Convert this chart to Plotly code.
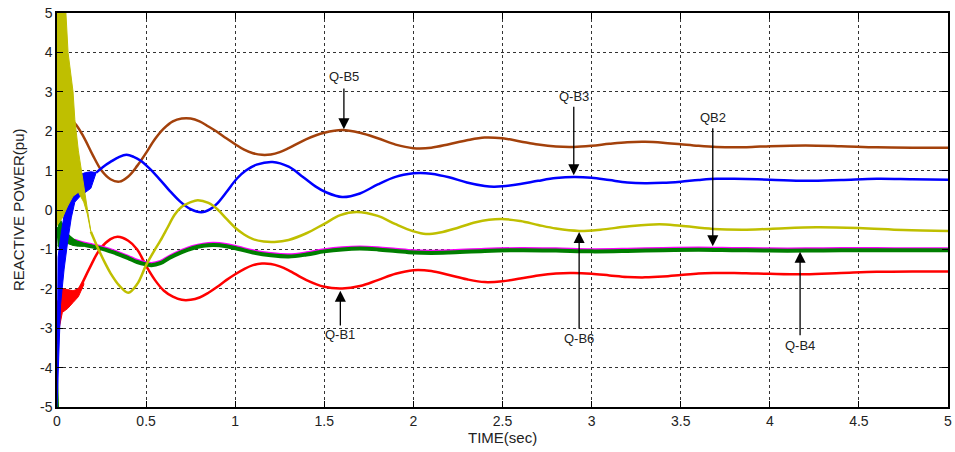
import plotly.graph_objects as go

# ---------------- data ----------------
t_b5 = [0.05, 0.1, 0.15, 0.2, 0.25, 0.3, 0.35, 0.4, 0.45, 0.5, 0.55, 0.6, 0.65, 0.7, 0.75, 0.8, 0.85, 0.9, 0.95, 1.0,
        1.05, 1.1, 1.15, 1.2, 1.25, 1.3, 1.4, 1.5, 1.6, 1.7, 1.8, 1.9, 2.0, 2.1, 2.2, 2.3, 2.4, 2.5, 2.6, 2.7, 2.8,
        2.9, 3.0, 3.1, 3.2, 3.3, 3.4, 3.5, 3.6, 3.7, 3.8, 3.9, 4.0, 4.2, 4.4, 4.6, 4.8, 5.0]
q_b5 = [2.35, 2.2, 1.85, 1.4, 1.0, 0.78, 0.72, 0.85, 1.12, 1.45, 1.8, 2.07, 2.25, 2.32, 2.32, 2.25, 2.12, 1.98, 1.82, 1.67,
        1.53, 1.44, 1.4, 1.41, 1.47, 1.57, 1.8, 1.96, 2.03, 1.96, 1.82, 1.66, 1.57, 1.58, 1.67, 1.77, 1.84, 1.82, 1.74, 1.66, 1.61,
        1.6, 1.63, 1.68, 1.72, 1.73, 1.71, 1.67, 1.63, 1.6, 1.59, 1.6, 1.62, 1.64, 1.62, 1.59, 1.58, 1.58]

t_b1 = [0.0, 0.005, 0.01, 0.05, 0.1, 0.13, 0.18, 0.24, 0.3, 0.34, 0.4, 0.45, 0.5, 0.55, 0.6, 0.65, 0.7, 0.75, 0.8, 0.85,
        0.9, 0.95, 1.0, 1.05, 1.1, 1.15, 1.2, 1.25, 1.3, 1.4, 1.5, 1.6, 1.7, 1.8, 1.9, 2.0, 2.1, 2.2, 2.3, 2.4, 2.5,
        2.6, 2.7, 2.8, 2.9, 3.0, 3.1, 3.2, 3.3, 3.4, 3.5, 3.6, 3.7, 3.8, 3.9, 4.0, 4.2, 4.4, 4.6, 4.8, 5.0]
q_b1 = [-3.4, -2.6, -2.3, -2.2, -2.12, -1.95, -1.5, -1.0, -0.74, -0.68, -0.78, -1.0, -1.42, -1.78, -2.05, -2.2, -2.28, -2.28, -2.22, -2.1,
        -1.95, -1.78, -1.63, -1.5, -1.4, -1.36, -1.37, -1.43, -1.53, -1.78, -1.95, -1.99, -1.93, -1.78, -1.62, -1.53, -1.55, -1.65, -1.76, -1.83, -1.81,
        -1.74, -1.66, -1.61, -1.6, -1.62, -1.66, -1.7, -1.71, -1.69, -1.65, -1.61, -1.6, -1.6, -1.61, -1.62, -1.63, -1.6, -1.57, -1.56, -1.56]
t_b1_band = [0.008, 0.03, 0.06, 0.09, 0.12, 0.15]
b1_band_hi = [-1.95, -2.0, -2.02, -2.05, -2.0, -1.85]
b1_band_lo = [-3.1, -2.6, -2.5, -2.35, -2.2, -1.9]

t_b3 = [0.22, 0.26, 0.3, 0.35, 0.39, 0.43, 0.47, 0.52, 0.58, 0.63, 0.69, 0.75, 0.81, 0.86, 0.9, 0.95, 1.01, 1.06, 1.12, 1.21,
        1.3, 1.38, 1.45, 1.51, 1.6, 1.7, 1.8, 1.9, 2.0, 2.04, 2.1, 2.2, 2.3, 2.4, 2.45, 2.5, 2.6, 2.7, 2.8, 2.9,
        3.0, 3.1, 3.2, 3.3, 3.4, 3.5, 3.6, 3.7, 3.8, 4.0, 4.2, 4.4, 4.6, 4.8, 5.0]
q_b3 = [0.95, 1.1, 1.22, 1.35, 1.4, 1.35, 1.25, 1.05, 0.76, 0.5, 0.22, 0.02, -0.06, 0.02, 0.17, 0.45, 0.8, 1.0, 1.15, 1.22,
        1.1, 0.84, 0.6, 0.45, 0.33, 0.42, 0.65, 0.84, 0.93, 0.94, 0.92, 0.83, 0.7, 0.61, 0.59, 0.6, 0.66, 0.74, 0.81, 0.84,
        0.82, 0.76, 0.7, 0.68, 0.69, 0.72, 0.76, 0.79, 0.79, 0.77, 0.74, 0.76, 0.79, 0.78, 0.77]
t_b3_band = [0.0, 0.006, 0.02, 0.04, 0.06, 0.08, 0.1, 0.13, 0.16, 0.19, 0.22]
b3_band_hi = [-4.6, -1.2, -0.7, -0.1, 0.45, 0.63, 0.62, 0.9, 0.95, 0.97, 0.95]
b3_band_lo = [-5.0, -4.0, -2.4, -1.5, -0.8, -0.2, 0.2, 0.35, 0.45, 0.55, 0.95]

t_b6 = [0.19, 0.23, 0.27, 0.3, 0.35, 0.4, 0.45, 0.5, 0.55, 0.58, 0.62, 0.66, 0.7, 0.75, 0.79, 0.85, 0.9, 0.95, 1.0, 1.05,
        1.1, 1.16, 1.22, 1.3, 1.4, 1.5, 1.59, 1.68, 1.8, 1.9, 2.0, 2.07, 2.15, 2.25, 2.35, 2.49, 2.6, 2.7, 2.8, 2.93,
        3.05, 3.2, 3.38, 3.5, 3.68, 3.85, 4.0, 4.26, 4.5, 4.75, 5.0]
q_b6 = [-0.55, -0.97, -1.35, -1.6, -1.92, -2.1, -1.88, -1.4, -1.0, -0.78, -0.45, -0.12, 0.08, 0.2, 0.25, 0.18, 0.02, -0.22, -0.45, -0.62,
        -0.74, -0.8, -0.81, -0.76, -0.59, -0.35, -0.13, -0.05, -0.15, -0.36, -0.54, -0.61, -0.57, -0.45, -0.31, -0.23, -0.28, -0.38, -0.47, -0.53,
        -0.5, -0.42, -0.36, -0.4, -0.48, -0.5, -0.48, -0.44, -0.46, -0.51, -0.53]
t_b6_band_hi = [0.0, 0.045, 0.05, 0.062, 0.09, 0.1, 0.12, 0.14, 0.16, 0.18, 0.19]
b6_band_hi = [5.5, 5.5, 5.0, 4.0, 3.0, 2.3, 1.5, 0.9, 0.35, -0.2, -0.55]
t_b6_band_lo = [0.19, 0.17, 0.15, 0.12, 0.09, 0.06, 0.03, 0.0]
b6_band_lo = [-0.55, -0.1, 0.2, 0.45, 0.35, 0.1, -0.2, -0.4]

t_b4 = [0.0, 0.004, 0.02, 0.04, 0.07, 0.1, 0.15, 0.2, 0.25, 0.3, 0.35, 0.4, 0.45, 0.5, 0.53, 0.58, 0.63, 0.7, 0.76, 0.82,
        0.88, 0.95, 1.02, 1.1, 1.2, 1.3, 1.4, 1.5, 1.6, 1.7, 1.8, 1.9, 2.0, 2.1, 2.2, 2.4, 2.6, 2.8, 3.0, 3.2,
        3.4, 3.6, 3.8, 4.0, 4.2, 4.4, 4.6, 4.8, 5.0]
q_b4 = [-5.0, -0.5, -0.45, -0.55, -0.7, -0.8, -0.88, -0.93, -0.98, -1.05, -1.13, -1.22, -1.32, -1.38, -1.4, -1.35, -1.22, -1.07, -0.97, -0.91,
        -0.89, -0.92, -0.99, -1.08, -1.15, -1.18, -1.13, -1.05, -1.0, -0.98, -1.0, -1.04, -1.08, -1.09, -1.08, -1.04, -1.02, -1.03, -1.05, -1.04,
        -1.02, -1.01, -1.02, -1.03, -1.03, -1.02, -1.02, -1.02, -1.02]
t_b4_band = [0.005, 0.02, 0.04, 0.06, 0.09, 0.12, 0.15]
b4_band_hi = [-0.3, -0.25, -0.45, -0.62, -0.75, -0.83, -0.87]
b4_band_lo = [-0.9, -1.0, -0.9, -0.85, -0.9, -0.92, -0.92]

t_b2 = [0.1, 0.15, 0.2, 0.25, 0.3, 0.35, 0.4, 0.45, 0.5, 0.53, 0.58, 0.63, 0.7, 0.76, 0.82, 0.88, 0.95, 1.02, 1.1, 1.2,
        1.3, 1.4, 1.5, 1.6, 1.7, 1.8, 1.9, 2.0, 2.1, 2.2, 2.4, 2.6, 2.8, 3.0, 3.2, 3.4, 3.6, 3.8, 4.0, 4.2,
        4.4, 4.6, 4.8, 5.0]
q_b2 = [-0.76, -0.83, -0.88, -0.93, -1.0, -1.08, -1.17, -1.27, -1.33, -1.35, -1.3, -1.17, -1.02, -0.92, -0.86, -0.84, -0.87, -0.94, -1.03, -1.1,
        -1.13, -1.08, -1.0, -0.95, -0.93, -0.95, -0.99, -1.03, -1.04, -1.03, -0.99, -0.97, -0.98, -1.0, -0.99, -0.97, -0.96, -0.97, -0.98, -0.98,
        -0.97, -0.97, -0.98, -0.98]

x_ticks = [0, 0.5, 1, 1.5, 2, 2.5, 3, 3.5, 4, 4.5, 5]
x_tick_labels = ["0", "0.5", "1", "1.5", "2", "2.5", "3", "3.5", "4", "4.5", "5"]
y_ticks = [-5, -4, -3, -2, -1, 0, 1, 2, 3, 4, 5]
y_tick_labels = ["-5", "-4", "-3", "-2", "-1", "0", "1", "2", "3", "4", "5"]
x_title = "TIME(sec)"
y_title = "REACTIVE POWER(pu)"

# annotation labels: (text, x, text_y, tail_y, head_y)
labels = ["Q-B5", "Q-B3", "QB2", "Q-B1", "Q-B6", "Q-B4"]
label_x = [1.61, 2.9, 3.68, 1.59, 2.93, 4.17]
label_text_y = [3.38, 2.87, 2.36, -3.15, -3.25, -3.43]
label_tail_y = [3.12, 2.66, 2.11, -2.97, -3.05, -3.22]
label_head_y = [2.05, 0.88, -0.92, -2.05, -0.56, -1.06]

# ---------------- styles ----------------
BROWN = "#A3410B"
BLUE = "#0000FF"
RED = "#FF0000"
YELLOW = "#BFBF00"
GREEN = "#007F00"
MAGENTA = "#FF00FF"
FONT = "Liberation Sans, Arial, sans-serif"

fig = go.Figure()


def band(tx_hi, hi, tx_lo, lo, color):
    xs = list(tx_hi) + list(tx_lo)
    ys = list(hi) + list(lo)
    fig.add_trace(go.Scatter(x=xs, y=ys, mode="lines", fill="toself", fillcolor=color,
                             line=dict(color=color, width=1), hoverinfo="skip", showlegend=False))


# brown (Q-B5)
fig.add_trace(go.Scatter(x=t_b5, y=q_b5, mode="lines", line=dict(color=BROWN, width=2.5, shape="spline"), showlegend=False))
# red (Q-B1)
band(t_b1_band, b1_band_hi, t_b1_band[::-1], b1_band_lo[::-1], RED)
fig.add_trace(go.Scatter(x=t_b1, y=q_b1, mode="lines", line=dict(color=RED, width=2.5, shape="spline"), showlegend=False))
# magenta (QB2)
fig.add_trace(go.Scatter(x=t_b2, y=q_b2, mode="lines", line=dict(color=MAGENTA, width=2.5, shape="spline"), showlegend=False))
# green (Q-B4)
band(t_b4_band, b4_band_hi, t_b4_band[::-1], b4_band_lo[::-1], GREEN)
fig.add_trace(go.Scatter(x=t_b4, y=q_b4, mode="lines", line=dict(color=GREEN, width=4, shape="spline"), showlegend=False))
# blue (Q-B3)
band(t_b3_band, b3_band_hi, t_b3_band[::-1], b3_band_lo[::-1], BLUE)
fig.add_trace(go.Scatter(x=t_b3, y=q_b3, mode="lines", line=dict(color=BLUE, width=2.5, shape="spline"), showlegend=False))
# yellow (Q-B6)
band(t_b6_band_hi, b6_band_hi, t_b6_band_lo, b6_band_lo, YELLOW)
fig.add_trace(go.Scatter(x=t_b6, y=q_b6, mode="lines", line=dict(color=YELLOW, width=2.5, shape="spline"), showlegend=False))

annotations = []
for txt, x, ty, tail, head in zip(labels, label_x, label_text_y, label_tail_y, label_head_y):
    annotations.append(dict(x=x, y=ty, xref="x", yref="y", text=txt, showarrow=False,
                            font=dict(family=FONT, size=13, color="#222")))
    annotations.append(dict(x=x, y=head, ax=x, ay=tail, xref="x", yref="y", axref="x", ayref="y",
                            text="", showarrow=True, arrowhead=2, arrowsize=1.7, arrowwidth=1.3,
                            arrowcolor="#000"))
# axis titles
annotations.append(dict(x=0.5, y=0, xref="paper", yref="paper", yshift=-30, yanchor="middle",
                        text=x_title, showarrow=False, font=dict(family=FONT, size=15, color="#222")))
annotations.append(dict(x=0, y=0.5, xref="paper", yref="paper", xshift=-39, text=y_title, showarrow=False,
                        textangle=-90, xanchor="center", yanchor="middle",
                        font=dict(family=FONT, size=15, color="#222")))

fig.update_layout(
    width=955, height=452,
    margin=dict(l=57, r=7, t=13, b=45),
    paper_bgcolor="white", plot_bgcolor="white",
    font=dict(family=FONT, size=14, color="#222"),
    annotations=annotations,
    showlegend=False,
)
fig.update_xaxes(range=[0, 5], tickvals=x_ticks, ticktext=x_tick_labels, automargin=False,
                 showline=True, linecolor="black", linewidth=1.5, mirror="ticks",
                 ticks="inside", ticklen=6, tickcolor="black",
                 showgrid=True, gridcolor="#333", griddash="dot", gridwidth=1, zeroline=False)
fig.update_yaxes(range=[-5, 5], tickvals=y_ticks, ticktext=y_tick_labels, automargin=False,
                 showline=True, linecolor="black", linewidth=1.5, mirror="ticks",
                 ticks="inside", ticklen=6, tickcolor="black",
                 showgrid=True, gridcolor="#333", griddash="dot", gridwidth=1, zeroline=False)

fig.write_html("out.html", config={"displayModeBar": False},
               post_script="document.body.style.margin='0';document.body.style.overflow='hidden';")
